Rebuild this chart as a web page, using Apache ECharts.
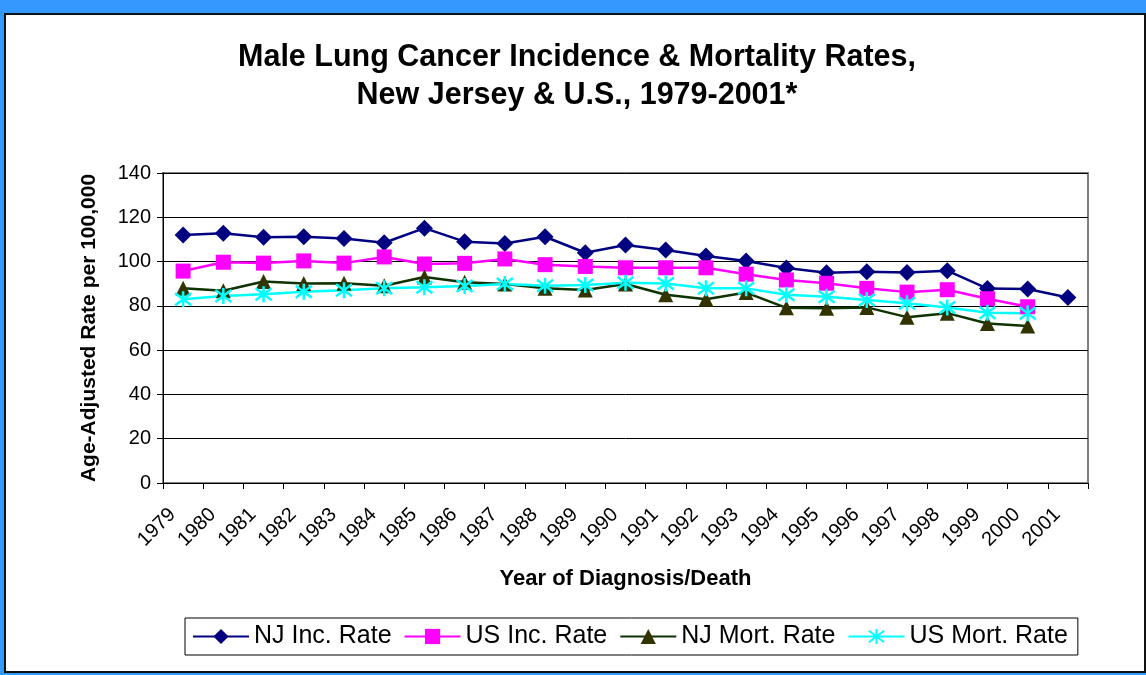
<!DOCTYPE html>
<html>
<head>
<meta charset="utf-8">
<script src="https://cdn.jsdelivr.net/npm/echarts@6/dist/echarts.min.js"></script>
<style>
  html, body { margin: 0; padding: 0; background: #3399ff; }
  #frame {
    position: absolute; left: 4px; top: 13px; width: 1138px; height: 656px;
    background: #fff; border: 2px solid #111;
  }
  #main { position: absolute; left: 0; top: 0; width: 1146px; height: 675px; }
</style>
</head>
<body>
<div id="frame"></div>
<div id="main"></div>
<script>
// years on the x axis
const years = ['1979', '1980', '1981', '1982', '1983', '1984', '1985', '1986', '1987', '1988', '1989',
    '1990', '1991', '1992', '1993', '1994', '1995', '1996', '1997', '1998', '1999', '2000', '2001'];

// rates per 100,000
const njInc = [112.0, 112.8, 111.0, 111.2, 110.4, 108.5, 115.1, 109.0, 108.2, 111.2, 104.0,
    107.5, 105.2, 102.5, 100.3, 97.1, 95.0, 95.4, 95.1, 95.9, 87.8, 87.6, 83.8];
const usInc = [95.7, 99.7, 99.3, 100.3, 99.3, 102.1, 98.9, 99.2, 101.2, 98.6, 97.8,
    97.2, 97.2, 97.2, 94.3, 91.7, 90.2, 87.9, 86.2, 87.3, 83.2, 79.6, null];
const njMort = [88.0, 86.8, 91.0, 90.1, 90.2, 89.1, 93.0, 90.7, 89.9, 88.0, 87.2,
    89.9, 85.0, 83.0, 86.0, 79.1, 78.9, 79.3, 74.9, 76.7, 72.0, 70.9, null];
const usMort = [83.0, 84.5, 85.2, 86.4, 87.1, 87.9, 88.4, 89.0, 89.9, 89.1, 89.4,
    90.4, 90.1, 87.9, 87.9, 85.0, 84.1, 82.6, 81.2, 79.3, 76.9, 76.7, null];

const font = "'Liberation Sans', Arial, sans-serif";
const asterisk = 'path://M8 0L8 16M1 2L15 14M15 2L1 14';

const chart = echarts.init(document.getElementById('main'));
chart.setOption({
    animation: false,
    textStyle: { fontFamily: font, color: '#000' },
    title: {
        text: 'Male Lung Cancer Incidence & Mortality Rates,\nNew Jersey & U.S., 1979-2001*',
        left: 577,
        textAlign: 'center',
        top: 39,
        padding: 0,
        textStyle: { fontFamily: font, fontSize: 30.5, fontWeight: 'bold', lineHeight: 38, color: '#000' },
    },
    legend: {
        left: 185,
        top: 618,
        padding: [6, 10, 6, 7],
        itemWidth: 56,
        itemHeight: 19,
        itemGap: 12,
        borderColor: '#000',
        borderWidth: 1,
        textStyle: { fontFamily: font, fontSize: 25, color: '#000' },
        data: ['NJ Inc. Rate', 'US Inc. Rate', 'NJ Mort. Rate', 'US Mort. Rate'],
    },
    grid: {
        left: 163,
        right: 58,
        top: 173,
        bottom: 192,
        show: true,
        borderColor: '#808080',
        borderWidth: 2,
    },
    xAxis: {
        type: 'category',
        data: years,
        boundaryGap: true,
        name: 'Year of Diagnosis/Death',
        nameLocation: 'middle',
        nameGap: 85,
        nameTextStyle: { fontFamily: font, fontSize: 22, fontWeight: 'bold', color: '#000' },
        axisLine: { lineStyle: { color: '#000', width: 1 } },
        axisTick: { show: true, interval: 0, length: 6, lineStyle: { color: '#000' } },
        axisLabel: {
            interval: 0, rotate: 45, margin: 18, padding: [0, 15, 0, 0],
            fontSize: 20, color: '#000', fontFamily: font,
        },
        splitLine: { show: false },
    },
    yAxis: {
        type: 'value',
        min: 0,
        max: 140,
        interval: 20,
        name: 'Age-Adjusted Rate per 100,000',
        nameLocation: 'middle',
        nameGap: 63,
        nameTextStyle: { fontFamily: font, fontSize: 21, fontWeight: 'bold', color: '#000' },
        axisLine: { show: true, lineStyle: { color: '#000', width: 1 } },
        axisTick: { show: true, length: 6, lineStyle: { color: '#000' } },
        axisLabel: { fontSize: 20, color: '#000', margin: 12, fontFamily: font },
        splitLine: { show: true, lineStyle: { color: '#000', width: 1 } },
    },
    series: [
        {
            name: 'NJ Inc. Rate',
            type: 'line',
            data: njInc,
            symbol: 'diamond',
            symbolSize: 17,
            showAllSymbol: true,
            lineStyle: { color: '#000080', width: 2.5 },
            itemStyle: { color: '#000080', borderWidth: 0 },
        },
        {
            name: 'US Inc. Rate',
            type: 'line',
            data: usInc,
            symbol: 'rect',
            symbolSize: 15,
            showAllSymbol: true,
            lineStyle: { color: '#ff00ff', width: 2.5 },
            itemStyle: { color: '#ff00ff', borderWidth: 0 },
        },
        {
            name: 'NJ Mort. Rate',
            type: 'line',
            data: njMort,
            symbol: 'triangle',
            symbolSize: 15,
            showAllSymbol: true,
            lineStyle: { color: '#0d3300', width: 2.5 },
            itemStyle: { color: '#333300', borderWidth: 0 },
        },
        {
            name: 'US Mort. Rate',
            type: 'line',
            data: usMort,
            symbol: asterisk,
            symbolSize: 16,
            showAllSymbol: true,
            lineStyle: { color: '#00ffff', width: 2.5 },
            itemStyle: { color: '#00ffff', borderColor: '#00ffff', borderWidth: 2.5 },
        },
    ],
});
</script>
</body>
</html>
